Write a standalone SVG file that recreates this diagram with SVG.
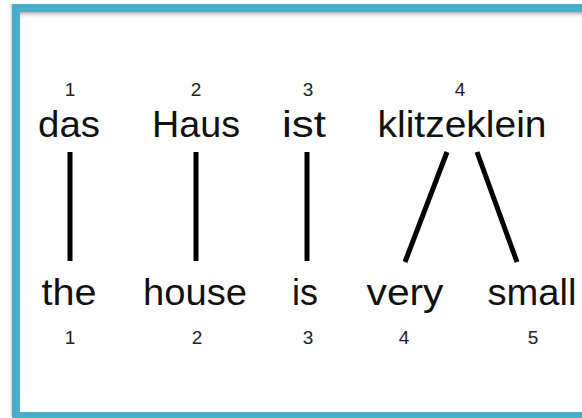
<svg xmlns="http://www.w3.org/2000/svg" width="582" height="418" viewBox="0 0 582 418">
  <defs>
    <linearGradient id="shTop" x1="0" y1="0" x2="0" y2="1">
      <stop offset="0" stop-color="#9a9a9a" stop-opacity="0.8"/>
      <stop offset="1" stop-color="#ffffff" stop-opacity="0"/>
    </linearGradient>
    <linearGradient id="shLeft" x1="1" y1="0" x2="0" y2="0">
      <stop offset="0" stop-color="#b0b0b0" stop-opacity="0.6"/>
      <stop offset="1" stop-color="#ffffff" stop-opacity="0"/>
    </linearGradient>
  </defs>
  <style>
    .word { font-family: "Liberation Sans", Arial, Helvetica, sans-serif; font-size: 36px; fill: #111; text-anchor: middle; }
    .num { font-family: "Liberation Sans", Arial, Helvetica, sans-serif; font-size: 19px; fill: #222; text-anchor: middle; }
    .link { stroke: #000; stroke-width: 5; stroke-linecap: butt; fill: none; }
  </style>
  <rect x="0" y="0" width="582" height="418" fill="#ffffff"/>
  <rect x="20" y="12" width="570" height="7" fill="url(#shTop)"/>
  <rect x="8" y="4" width="4" height="412" fill="url(#shLeft)"/>
  <rect x="16" y="8" width="600" height="408" fill="none" stroke="#4aaec8" stroke-width="8"/>

  <g id="src1"><text class="num" x="70" y="96">1</text><text class="word" x="69" y="137" textLength="62" lengthAdjust="spacingAndGlyphs">das</text></g>
  <g id="src2"><text class="num" x="196" y="96">2</text><text class="word" x="196" y="137" textLength="88" lengthAdjust="spacingAndGlyphs">Haus</text></g>
  <g id="src3"><text class="num" x="308" y="96">3</text><text class="word" x="304" y="137" textLength="44" lengthAdjust="spacingAndGlyphs">ist</text></g>
  <g id="src4"><text class="num" x="460" y="96">4</text><text class="word" x="462" y="137" textLength="169" lengthAdjust="spacingAndGlyphs">klitzeklein</text></g>

  <g id="tgt1"><text class="word" x="69" y="305" textLength="55" lengthAdjust="spacingAndGlyphs">the</text><text class="num" x="70" y="344">1</text></g>
  <g id="tgt2"><text class="word" x="195" y="305" textLength="104" lengthAdjust="spacingAndGlyphs">house</text><text class="num" x="197" y="344">2</text></g>
  <g id="tgt3"><text class="word" x="305" y="305" textLength="26" lengthAdjust="spacingAndGlyphs">is</text><text class="num" x="308" y="344">3</text></g>
  <g id="tgt4"><text class="word" x="405" y="305" textLength="77" lengthAdjust="spacingAndGlyphs">very</text><text class="num" x="404" y="344">4</text></g>
  <g id="tgt5"><text class="word" x="532" y="305" textLength="89" lengthAdjust="spacingAndGlyphs">small</text><text class="num" x="533" y="344">5</text></g>

  <g id="connectors">
    <line class="link" x1="70" y1="152" x2="70" y2="261"/>
    <line class="link" x1="196" y1="152" x2="196" y2="261"/>
    <line class="link" x1="307" y1="152" x2="307" y2="261"/>
    <line class="link" x1="447" y1="152" x2="405" y2="262"/>
    <line class="link" x1="477" y1="152" x2="517" y2="262"/>
  </g>
</svg>
